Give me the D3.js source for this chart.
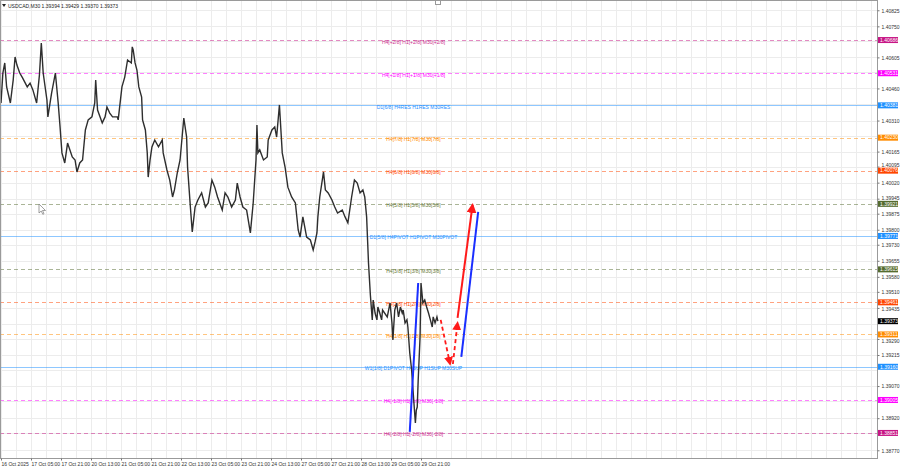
<!DOCTYPE html>
<html><head><meta charset="utf-8">
<script src="https://cdn.jsdelivr.net/npm/d3@7"></script>
<style>body{margin:0;background:#fff}svg{display:block}text{font-family:"Liberation Sans",Arial,sans-serif}</style>
</head><body><svg id="c" width="900" height="468"></svg>
<script>
// ---- data ----
const symbolTitle = "USDCAD,M30  1.39394 1.39429 1.39370 1.39373";
const barIndex = [0,2,4,6,10,13,15,17,20,23,28,31,34,38,41,43,45,49,50,54,58,61,63,65,68,71,76,79,81,84,87,90,93,97,100,101,103,108,111,113,116,119,124,125,129,132,135,139,140,141,143,145,147,150,151,154,156,157,159,161,164,168,172,173,177,180,183,185,188,191,195,198,199,202,204,207,210,214,218,221,225,228,231,236,239,242,246,250,252,255,258,262,266,269,272,273,274,276,280,284,285,289,292,294,297,300,303,306,310,314,317,319,322,326,330,333,335,337,338,340,344,346,349,353,356,359,364,367,370,374,377,380,383,386,388,390,392,394,396,397,399,401,402,404,406,407,412,415,417,418,420,422,424,426,428,429,431,433,434,436,438,440,442,443,444,445,447,448,450,452,454,456,458,460,461,463,465,466];
const closes = [1.40392,1.40532,1.40579,1.40467,1.40392,1.40499,1.40607,1.40569,1.40532,1.40509,1.40467,1.40485,1.40453,1.40392,1.40523,1.40672,1.40532,1.40406,1.40327,1.40439,1.40532,1.40392,1.40280,1.40159,1.40112,1.40205,1.40140,1.40126,1.40070,1.40112,1.40126,1.40266,1.40313,1.40327,1.40392,1.40499,1.40359,1.40299,1.40327,1.40373,1.40345,1.40327,1.40327,1.40313,1.40467,1.40513,1.40593,1.40579,1.40654,1.40640,1.40579,1.40546,1.40467,1.40420,1.40313,1.40266,1.40159,1.40046,1.40126,1.40187,1.40219,1.40187,1.40219,1.40159,1.40079,1.40032,1.39953,1.39986,1.40065,1.40126,1.40322,1.40233,1.40093,1.39906,1.39790,1.39906,1.39939,1.39972,1.39906,1.39925,1.40032,1.39999,1.39953,1.39892,1.39972,1.39953,1.39906,1.39939,1.40018,1.39953,1.39906,1.39892,1.39785,1.39925,1.40126,1.40289,1.40159,1.40173,1.40126,1.40140,1.40219,1.40266,1.40280,1.40233,1.40383,1.40159,1.40093,1.39999,1.39953,1.39925,1.39799,1.39766,1.39860,1.39766,1.39752,1.39706,1.39743,1.39785,1.39860,1.39953,1.40070,1.39986,1.39972,1.39939,1.39906,1.39878,1.39892,1.39860,1.39832,1.39953,1.40032,1.40018,1.39972,1.39986,1.39953,1.39860,1.39645,1.39495,1.39379,1.39472,1.39411,1.39379,1.39439,1.39411,1.39379,1.39425,1.39393,1.39458,1.39365,1.39285,1.39425,1.39458,1.39393,1.39439,1.39411,1.39425,1.39365,1.39379,1.39346,1.39225,1.39145,1.39019,1.38898,1.38958,1.38972,1.39098,1.39299,1.39551,1.39458,1.39472,1.39439,1.39411,1.39379,1.39346,1.39393,1.39365,1.39393,1.39373];
const timeTickBars = [0,32,64,96,128,160,192,224,256,288,320,352,384,416,448];
const timeTickLabels = ["16 Oct 2025","17 Oct 05:00","17 Oct 21:00","20 Oct 13:00","21 Oct 05:00","21 Oct 21:00","22 Oct 13:00","23 Oct 05:00","23 Oct 21:00","24 Oct 13:00","27 Oct 05:00","27 Oct 21:00","28 Oct 13:00","29 Oct 05:00","29 Oct 21:00"];
const priceTicks = [1.40825,1.40750,1.40680,1.40605,1.40535,1.40460,1.40385,1.40310,1.40240,1.40165,1.40095,1.40020,1.39945,1.39875,1.39800,1.39730,1.39655,1.39580,1.39510,1.39435,1.39360,1.39290,1.39215,1.39145,1.39070,1.39000,1.38920,1.38850,1.38770];
const levelNames = ["H4[+2/8] H1[+2/8] M30[+2/8]","H4[+1/8] H1[+1/8] M30[+1/8]","D1[6/8] H4RES H1RES M30RES","H4[7/8] H1[7/8] M30[7/8]","H4[6/8] H1[6/8] M30[6/8]","H4[5/8] H1[5/8] M30[5/8]","D1[5/8] H4PIVOT H1PIVOT M30PIVOT","H4[3/8] H1[3/8] M30[3/8]","H4[2/8] H1[2/8] M30[2/8]","H4[1/8] H1[1/8] M30[1/8]","W1[1/8] D1PIVOT H4SUP H1SUP M30SUP","H4[-1/8] H1[-1/8] M30[-1/8]","H4[-2/8] H1[-2/8] M30[-2/8]"];
const levelPrices = [1.40686,1.40531,1.40381,1.40230,1.40076,1.39921,1.39771,1.39615,1.39461,1.39311,1.39160,1.39005,1.38851];
const lastPrice = 1.39373;
// projection arrows: [bar0, price0, bar1, price1]
const blueLines = [[436,1.38856,445,1.39551],[491,1.39206,509,1.39883]];
const redDashed = [[469,1.39379,479,1.39173],[482,1.39173,487,1.39365]];
const redSolid = [[487,1.39388,503,1.39916]];

// ---- styles ----
const levelStyle = [
 {c:"#c71585",t:"#cc2f8f",d:true},{c:"#ff00ff",t:"#ff00ff",d:true},{c:"#1e90ff",t:"#1e90ff",d:false},
 {c:"#ff8c00",t:"#ff8c00",d:true},{c:"#ff4500",t:"#ff4500",d:true},{c:"#556b2f",t:"#6b7b3a",d:true},
 {c:"#1e90ff",t:"#1e90ff",d:false},{c:"#556b2f",t:"#6b7b3a",d:true},{c:"#ff4500",t:"#ff4500",d:true},
 {c:"#ff8c00",t:"#ff8c00",d:true},{c:"#1e90ff",t:"#1e90ff",d:false},{c:"#ff00ff",t:"#ff00ff",d:true},
 {c:"#c71585",t:"#cc2f8f",d:true}];

const svg = d3.select("#c");
const W = 877, H = 458;
const x = d3.scaleLinear().domain([0,928]).range([1,871]);
const y = d3.scaleLinear().domain([1.40873,1.38734]).range([0,H]);

// grid
const g = svg.append("g");
d3.range(0, 936, 16).forEach(b => {
  g.append("line").attr("x1", Math.round(x(b))+0.5).attr("x2", Math.round(x(b))+0.5).attr("y1",0).attr("y2",H).attr("stroke","#ececec");
});
priceTicks.forEach(p => {
  g.append("line").attr("x1",0).attr("x2",W).attr("y1",Math.round(y(p))+0.5).attr("y2",Math.round(y(p))+0.5).attr("stroke","#ececec");
});

// levels
levelPrices.forEach((p,i) => {
  const s = levelStyle[i];
  svg.append("line").attr("x1",0).attr("x2",W).attr("y1",Math.round(y(p))+0.5).attr("y2",Math.round(y(p))+0.5)
    .attr("stroke",s.c).attr("stroke-opacity",0.5).attr("stroke-dasharray",s.d?"4,3":null);
  svg.append("text").attr("x",x(440)).attr("y",y(p)+3.5).attr("text-anchor","middle")
    .attr("font-size",5).attr("fill",s.t).text(levelNames[i]);
});

// price line
svg.append("path").datum(barIndex.map((b,i)=>[b,closes[i]]))
  .attr("d", d3.line().x(d=>x(d[0])).y(d=>y(d[1])))
  .attr("fill","none").attr("stroke","#2e2e2e").attr("stroke-width",1.4).attr("stroke-linejoin","miter");

// arrows
const defs = svg.append("defs");
defs.append("marker").attr("id","ah").attr("viewBox","0 0 10 10").attr("refX",8).attr("refY",5)
  .attr("markerWidth",5).attr("markerHeight",5).attr("orient","auto")
  .append("path").attr("d","M0,0L10,5L0,10z").attr("fill","#ff1a1a");
blueLines.forEach(a => svg.append("line").attr("x1",x(a[0])).attr("y1",y(a[1])).attr("x2",x(a[2])).attr("y2",y(a[3]))
  .attr("stroke","#1a2fff").attr("stroke-width",2));
redDashed.forEach(a => svg.append("line").attr("x1",x(a[0])).attr("y1",y(a[1])).attr("x2",x(a[2])).attr("y2",y(a[3]))
  .attr("stroke","#ff1a1a").attr("stroke-width",1.8).attr("stroke-dasharray","4,3").attr("marker-end","url(#ah)"));
redSolid.forEach(a => svg.append("line").attr("x1",x(a[0])).attr("y1",y(a[1])).attr("x2",x(a[2])).attr("y2",y(a[3]))
  .attr("stroke","#ff1a1a").attr("stroke-width",2).attr("marker-end","url(#ah)"));

// frame
svg.append("rect").attr("x",0.5).attr("y",0.5).attr("width",W).attr("height",H).attr("fill","none").attr("stroke","#9a9a9a");

// axis boxes for levels and last price
const boxes = levelPrices.map((p,i)=>({p, c: levelStyle[i].c})).concat([{p:lastPrice,c:"#000"}]);
const boxY = boxes.map(b => y(b.p));

// right axis: hide labels covered by a box, nudge near ones clear of it
const visTicks = priceTicks.filter(p => d3.min(boxY, by => Math.abs(by - y(p))) > 3.6);
const ra = svg.append("g").attr("transform",`translate(${W+0.5},0)`)
  .call(d3.axisRight(y).tickValues(visTicks).tickFormat(d3.format(".5f")).tickSize(2).tickPadding(2));
ra.select(".domain").remove();
ra.selectAll("text").attr("font-size",5).attr("fill","#333").attr("font-family","Liberation Sans, Arial")
  .attr("dy", p => {
    const ty = y(p); let shift = 0;
    boxY.forEach(by => { const d = ty - by; if (Math.abs(d) < 6.2) shift = (d > 0 ? 1 : -1) * (6.2 - Math.abs(d)); });
    return (1.8 + shift) + "px";
  });
ra.selectAll("line").attr("stroke","#777");

const ba = svg.append("g").attr("transform",`translate(0,${H+0.5})`)
  .call(d3.axisBottom(x).tickValues(timeTickBars).tickFormat((d,i)=>timeTickLabels[i]).tickSize(2).tickPadding(2));
ba.select(".domain").remove();
ba.selectAll("text").attr("font-size",5).attr("fill","#333").attr("text-anchor","start").attr("font-family","Liberation Sans, Arial");
ba.selectAll("line").attr("stroke","#777");

boxes.forEach(b => {
  svg.append("rect").attr("x",W+1).attr("y",y(b.p)-3).attr("width",20).attr("height",6).attr("fill",b.c);
  svg.append("text").attr("x",W+3).attr("y",y(b.p)+1.8).attr("font-size",5).attr("fill","#fff").text(d3.format(".5f")(b.p));
});

// title
svg.append("path").attr("d","M2,4L6,4L4,7z").attr("fill","#222");
svg.append("text").attr("x",8).attr("y",7.5).attr("font-size",5).attr("fill","#222").text(symbolTitle);
// small chart-window icon at top and the mouse pointer seen in the screenshot
svg.append("rect").attr("x",435.5).attr("y",0.5).attr("width",5).attr("height",4).attr("fill","#fff").attr("stroke","#999");
svg.append("path").attr("d","M39,204L39,213L41.2,211L42.8,214.3L44,213.7L42.5,210.5L45.5,210.5Z")
  .attr("fill","#fff").attr("stroke","#777").attr("stroke-width",0.7);
</script></body></html>
